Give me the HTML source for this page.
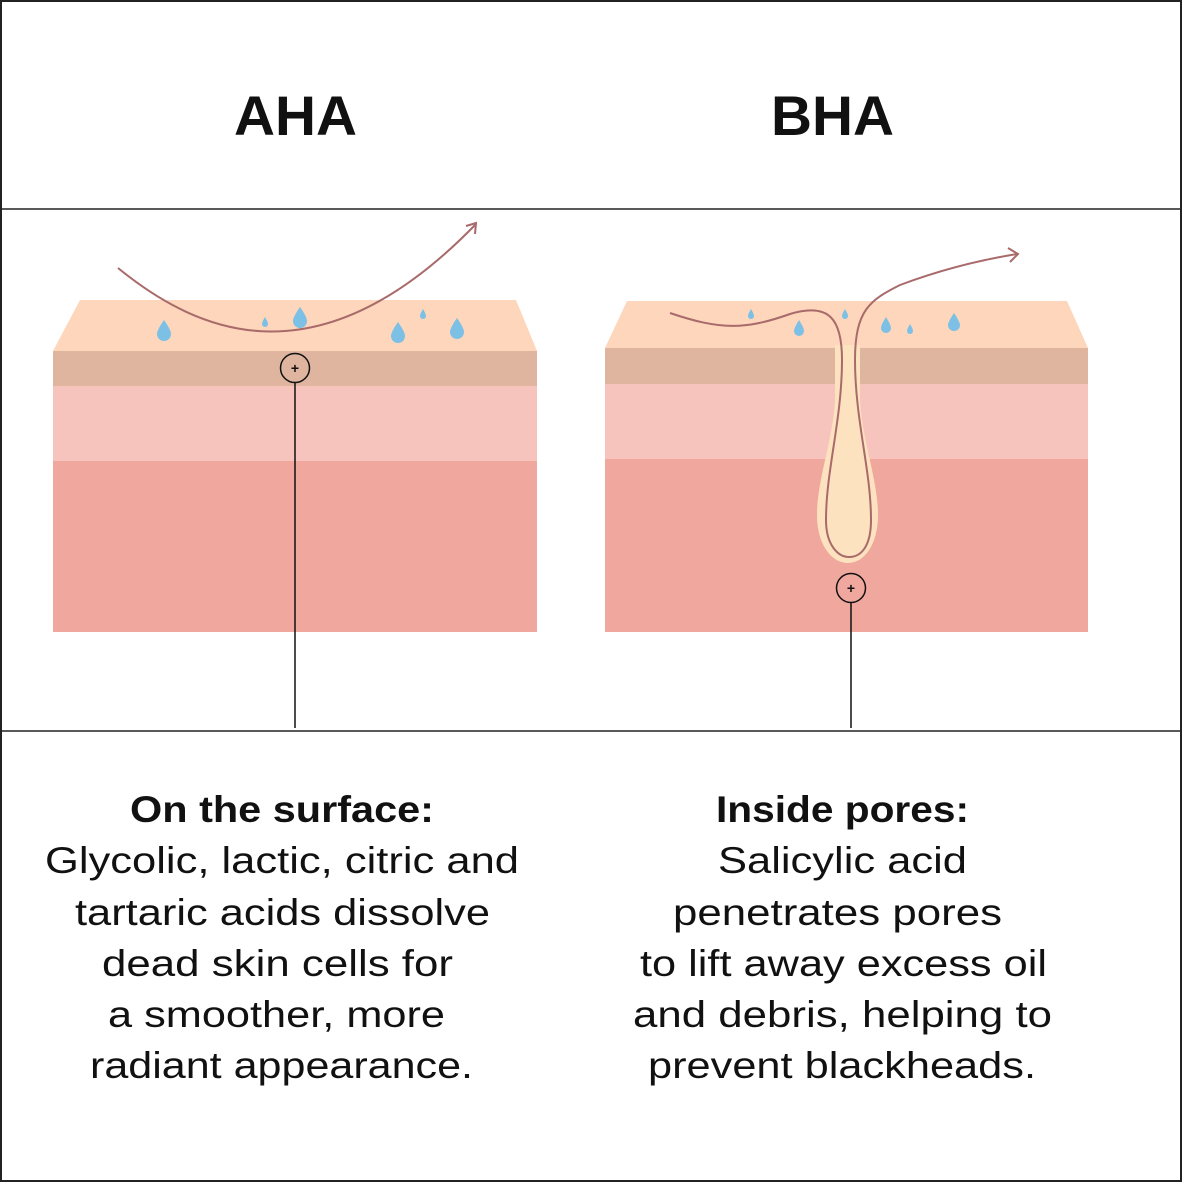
<!DOCTYPE html>
<html><head><meta charset="utf-8"><style>
html,body{margin:0;padding:0;background:#fff}
svg{display:block}
text{font-family:"Liberation Sans",sans-serif;fill:#111}
</style></head><body>
<svg width="1185" height="1185" viewBox="0 0 1185 1185" xmlns="http://www.w3.org/2000/svg">
<rect x="1" y="1" width="1180" height="1180" fill="#fff" stroke="#222" stroke-width="2"/>
<line x1="0" y1="209" x2="1182" y2="209" stroke="#222" stroke-width="1.5"/>
<line x1="0" y1="731" x2="1182" y2="731" stroke="#222" stroke-width="1.5"/>

<text x="234" y="135" font-size="56" font-weight="bold" textLength="123" lengthAdjust="spacingAndGlyphs">AHA</text>
<text x="771" y="135" font-size="56" font-weight="bold" textLength="123" lengthAdjust="spacingAndGlyphs">BHA</text>

<!-- AHA skin -->
<polygon points="80,300 516,300 537,351 53,351" fill="#fdd6bb"/>
<rect x="53" y="351" width="484" height="35" fill="#dfb59f"/>
<rect x="53" y="386" width="484" height="75" fill="#f7c3bd"/>
<rect x="53" y="461" width="484" height="171" fill="#f0a89e"/>
<g fill="#7cc0e6">
<path d="M164,320 q-7,10 -7,14 a7,7 0 0 0 14,0 q0,-4 -7,-14z"/>
<path d="M265,317 q-3,5 -3,7 a3,3 0 0 0 6,0 q0,-2 -3,-7z"/>
<path d="M300,307 q-7,10 -7,14 a7,7 0 0 0 14,0 q0,-4 -7,-14z"/>
<path d="M398,322 q-7,10 -7,14 a7,7 0 0 0 14,0 q0,-4 -7,-14z"/>
<path d="M423,309 q-3,5 -3,7 a3,3 0 0 0 6,0 q0,-2 -3,-7z"/>
<path d="M457,318 q-7,10 -7,14 a7,7 0 0 0 14,0 q0,-4 -7,-14z"/>
</g>
<path d="M118,268 C200,335 320,385 476,224" fill="none" stroke="#a86a6a" stroke-width="2"/>
<path d="M466,226 L476,223 L475,234" fill="none" stroke="#a86a6a" stroke-width="2"/>
<circle cx="295" cy="368" r="14.5" fill="none" stroke="#111" stroke-width="1.5"/>
<text x="295" y="373" font-size="14" font-weight="bold" text-anchor="middle">+</text>
<line x1="295" y1="383" x2="295" y2="728" stroke="#111" stroke-width="1.5"/>

<!-- BHA skin -->
<polygon points="627,301 1067,301 1088,348 605,348" fill="#fdd6bb"/>
<rect x="605" y="348" width="483" height="36" fill="#dfb59f"/>
<rect x="605" y="384" width="483" height="75" fill="#f7c3bd"/>
<rect x="605" y="459" width="483" height="173" fill="#f0a89e"/>
<path d="M835,345 L835,400 C833,440 817,480 817,515 C817,545 832,563 848,563 C864,563 878,545 878,515 C878,480 862,440 860,400 L860,345 Z" fill="#fde2c0"/>
<g fill="#7cc0e6">
<path d="M751,309 q-3,5 -3,7 a3,3 0 0 0 6,0 q0,-2 -3,-7z"/>
<path d="M799,320 q-5,8 -5,11 a5,5 0 0 0 10,0 q0,-3 -5,-11z"/>
<path d="M845,309 q-3,5 -3,7 a3,3 0 0 0 6,0 q0,-2 -3,-7z"/>
<path d="M886,317 q-5,8 -5,11 a5,5 0 0 0 10,0 q0,-3 -5,-11z"/>
<path d="M910,324 q-3,5 -3,7 a3,3 0 0 0 6,0 q0,-2 -3,-7z"/>
<path d="M954,313 q-6,9 -6,12 a6,6 0 0 0 12,0 q0,-3 -6,-12z"/>
</g>
<path d="M670,313 C720,330 745,330 790,314 C830,302 842,320 842,360 C842,420 826,470 826,520 C826,545 838,557 849,557 C862,557 871,545 871,520 C871,470 855,420 855,360 C855,310 870,300 900,285 C940,270 980,260 1017,254" fill="none" stroke="#a86a6a" stroke-width="2"/>
<path d="M1008,248 L1018,254 L1010,262" fill="none" stroke="#a86a6a" stroke-width="2"/>
<circle cx="851" cy="588" r="14.5" fill="none" stroke="#111" stroke-width="1.5"/>
<text x="851" y="593" font-size="14" font-weight="bold" text-anchor="middle">+</text>
<line x1="851" y1="603" x2="851" y2="728" stroke="#111" stroke-width="1.5"/>

<!-- Left text -->
<g font-size="37" lengthAdjust="spacingAndGlyphs">
<text x="130" y="822" font-weight="bold" textLength="304" lengthAdjust="spacingAndGlyphs">On the surface:</text>
<text x="45" y="873" textLength="474" lengthAdjust="spacingAndGlyphs">Glycolic, lactic, citric and</text>
<text x="75" y="925" textLength="415" lengthAdjust="spacingAndGlyphs">tartaric acids dissolve</text>
<text x="102" y="976" textLength="351" lengthAdjust="spacingAndGlyphs">dead skin cells for</text>
<text x="108" y="1027" textLength="337" lengthAdjust="spacingAndGlyphs">a smoother, more</text>
<text x="90" y="1078" textLength="383" lengthAdjust="spacingAndGlyphs">radiant appearance.</text>
<!-- Right text -->
<text x="716" y="822" font-weight="bold" textLength="253" lengthAdjust="spacingAndGlyphs">Inside pores:</text>
<text x="718" y="873" textLength="249" lengthAdjust="spacingAndGlyphs">Salicylic acid</text>
<text x="673" y="925" textLength="329" lengthAdjust="spacingAndGlyphs">penetrates pores</text>
<text x="640" y="976" textLength="407" lengthAdjust="spacingAndGlyphs">to lift away excess oil</text>
<text x="633" y="1027" textLength="419" lengthAdjust="spacingAndGlyphs">and debris, helping to</text>
<text x="648" y="1078" textLength="388" lengthAdjust="spacingAndGlyphs">prevent blackheads.</text>
</g>
</svg>
</body></html>
